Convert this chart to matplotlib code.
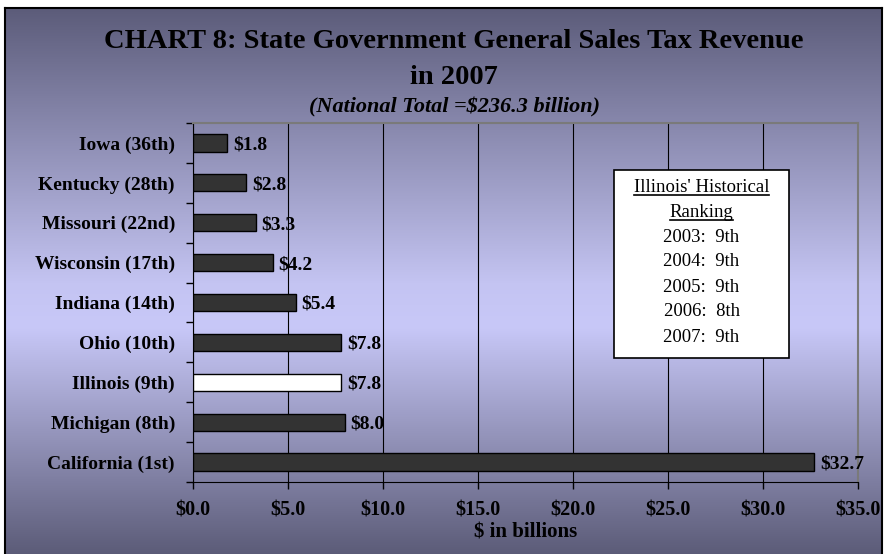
# Horizontal bar chart of 2007 state general sales tax revenue.

import matplotlib.pyplot as plt
import numpy as np
from matplotlib.colors import LinearSegmentedColormap
from matplotlib.patches import Rectangle

# Data
states = ['Iowa (36th)', 'Kentucky (28th)', 'Missouri (22nd)', 'Wisconsin (17th)',
          'Indiana (14th)', 'Ohio (10th)', 'Illinois (9th)', 'Michigan (8th)',
          'California (1st)']
revenue = [1.8, 2.8, 3.3, 4.2, 5.4, 7.8, 7.8, 8.0, 32.7]
highlight = 'Illinois (9th)'
x_ticks = [0, 5, 10, 15, 20, 25, 30, 35]
rank_years = ['2003', '2004', '2005', '2006', '2007']
rank_values = ['9th', '9th', '9th', '8th', '9th']

plt.rcParams['font.family'] = ['Liberation Serif', 'DejaVu Serif']

fig = plt.figure(figsize=(8.86, 5.54), dpi=100)
fig.patch.set_facecolor('white')
W, H = 886, 554

# Background panel with vertical gradient (bottom edge runs off the figure)
bg = fig.add_axes([5 / W, -4 / H, 877 / W, 550 / H])
cmap = LinearSegmentedColormap.from_list(
    'panel', [(0.0, '#5c5c7a'), (0.5, '#c4c4f2'), (0.58, '#c8c8f8'), (1.0, '#5a5a76')])
grad = np.linspace(0, 1, 256).reshape(-1, 1)
bg.imshow(grad, aspect='auto', cmap=cmap, extent=[0, 1, 0, 1], origin='upper')
bg.set_xlim(0, 1)
bg.set_ylim(0, 1)
bg.set_xticks([])
bg.set_yticks([])
for s in bg.spines.values():
    s.set_color('black')
    s.set_linewidth(1.5)

# Titles
fig.text(454 / W, 1 - 41 / H, 'CHART 8: State Government General Sales Tax Revenue',
         ha='center', va='center', fontsize=20.5, fontweight='bold')
fig.text(454 / W, 1 - 77 / H, 'in 2007', ha='center', va='center',
         fontsize=20.5, fontweight='bold')
fig.text(454 / W, 1 - 107 / H, '(National Total =$236.3 billion)', ha='center',
         va='center', fontsize=16, fontweight='bold', style='italic')

# Main plot area
ax = fig.add_axes([193 / W, 1 - 482 / H, (858 - 193) / W, (482 - 123) / H])
ax.patch.set_alpha(0)
y = np.arange(len(states))
colors = ['white' if s == highlight else '#333333' for s in states]
ax.barh(y, revenue, height=0.43, color=colors, edgecolor='black', linewidth=1.0, zorder=3)
ax.set_ylim(len(states) - 0.5, -0.5)
ax.set_xlim(0, 35)

for yi, v in zip(y, revenue):
    ax.text(v + 0.3, yi, f'${v:.1f}', ha='left', va='center_baseline', fontsize=14,
            fontweight='bold', zorder=4)

ax.set_xticks(x_ticks)
ax.set_xticklabels([f'${t:.1f}' for t in x_ticks], fontsize=14.5, fontweight='bold')
ax.set_yticks(y)
ax.set_yticklabels(states, fontsize=14, fontweight='bold', va='center_baseline')
ax.set_yticks(np.arange(len(states) + 1) - 0.5, minor=True)
ax.tick_params(axis='y', which='major', length=0, pad=13)
ax.tick_params(axis='y', which='minor', length=5, direction='out', width=1)
ax.tick_params(axis='x', length=5, direction='out', width=1, pad=8)
ax.grid(axis='x', color='black', linewidth=0.8, zorder=0)
ax.set_xlabel('$ in billions', fontsize=15, fontweight='bold', labelpad=2)

ax.spines['left'].set_color('black')
ax.spines['bottom'].set_color('black')
ax.spines['top'].set_color('#7a7a7a')
ax.spines['right'].set_color('#7a7a7a')
ax.spines['top'].set_linewidth(1.5)
ax.spines['right'].set_linewidth(1.5)

# Ranking box
box_l, box_t, box_r, box_b = 614, 170, 789, 358
fig.patches.append(Rectangle((box_l / W, 1 - box_b / H), (box_r - box_l) / W,
                             (box_b - box_t) / H, transform=fig.transFigure,
                             facecolor='white', edgecolor='black', linewidth=1.2,
                             zorder=5))
cx = (box_l + box_r) / 2
head = [fig.text(cx / W, 1 - 185 / H, "Illinois' Historical", ha='center',
                 va='center_baseline', fontsize=13.5, zorder=6),
        fig.text(cx / W, 1 - 210 / H, 'Ranking', ha='center', va='center_baseline',
                 fontsize=13.5, zorder=6)]
for i, (yr, rk) in enumerate(zip(rank_years, rank_values)):
    fig.text(cx / W, 1 - (235 + 25 * i) / H, f'{yr}:  {rk}', ha='center',
             va='center_baseline', fontsize=13.5, zorder=6)

# Underline the box heading
fig.canvas.draw()
renderer = fig.canvas.get_renderer()
for t in head:
    bb = t.get_window_extent(renderer).transformed(fig.transFigure.inverted())
    fig.add_artist(plt.Line2D([bb.x0, bb.x1], [bb.y0 + 0.001, bb.y0 + 0.001],
                              transform=fig.transFigure, color='black', linewidth=1.2,
                              zorder=6))

fig.savefig('out.png', dpi=100)
